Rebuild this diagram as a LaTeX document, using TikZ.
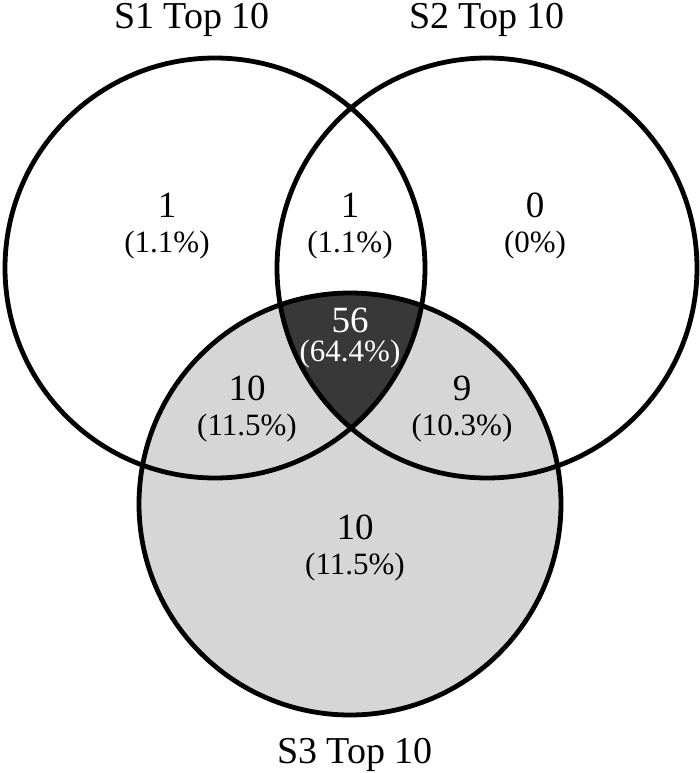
\documentclass[tikz,border=0pt]{standalone}
\usepackage{fontspec}
\setmainfont{Liberation Serif}
\usetikzlibrary{calc}
\definecolor{lightshade}{gray}{0.84}
\definecolor{darkshade}{gray}{0.22}
\newcommand{\numfont}{\fontsize{37}{40}\selectfont}
\newcommand{\pctfont}{\fontsize{31}{34}\selectfont}
\tikzset{
  ring/.style={draw=black,line width=4.8pt},
  num/.style={inner sep=0pt,font=\numfont},
  pct/.style={inner sep=0pt,font=\pctfont},
  setname/.style={inner sep=0pt,anchor=base,font=\fontsize{38}{40}\selectfont}
}

\begin{document}
\begin{tikzpicture}[x=1pt,y=-1pt]
\def\r{210pt}
\fill[white] (0,0) rectangle (700,773);
\useasboundingbox (0,0) rectangle (700,773);
\coordinate (c1) at (215,268);
\coordinate (c2) at (487,268);
\coordinate (c3) at (350,504);

% shading
\fill[lightshade] (c3) circle[radius=211pt];
\begin{scope}
\clip (c1) circle[radius=\r];
\clip (c2) circle[radius=\r];
\fill[darkshade] (c3) circle[radius=211pt];
\end{scope}

\draw[ring] (c1) circle[radius=\r];
\draw[ring] (c2) circle[radius=\r];
\draw[ring] (c3) circle[radius=211pt];

\node[setname] (t1) at (192,29) {S1 Top 10};
\node[setname] (t2) at (487,29) {S2 Top 10};
\node[setname] (t3) at (355,763) {S3 Top 10};

\node[num] (a1) at (167,205) {1};
\node[pct] (a1p) at (167,245) {(1.1\%)};
\node[num] (a12) at (350,205) {1};
\node[pct] (a12p) at (350,245) {(1.1\%)};
\node[num] (a2) at (535,205) {0};
\node[pct] (a2p) at (535,245) {(0\%)};
\node[num,text=white] (a123) at (350,320) {56};
\node[pct,text=white] (a123p) at (350,354) {(64.4\%)};
\node[num] (a13) at (247,388) {10};
\node[pct] (a13p) at (247,428) {(11.5\%)};
\node[num] (a23) at (462,388) {9};
\node[pct] (a23p) at (462,428) {(10.3\%)};
\node[num] (a3) at (355,527) {10};
\node[pct] (a3p) at (355,567) {(11.5\%)};
\end{tikzpicture}
\end{document}
